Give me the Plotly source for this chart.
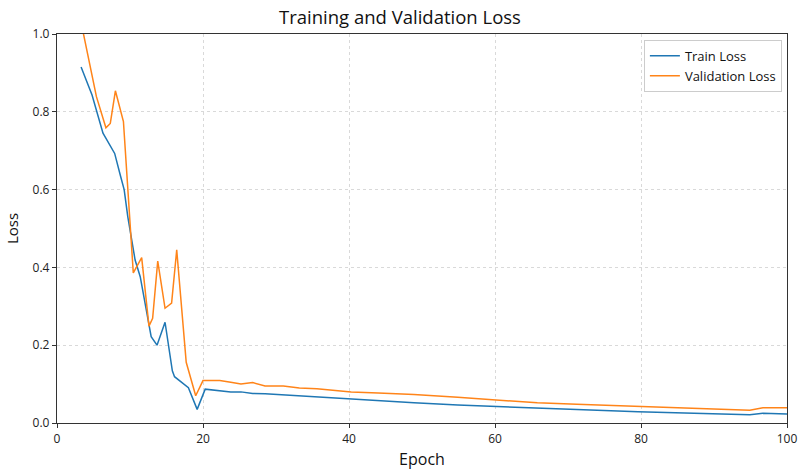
import plotly.graph_objects as go

# Data
train_epochs = [3.3, 4.8, 6.3, 7.9, 8.7, 9.2, 9.7, 10.7, 11.4, 12.9, 13.7, 14.8, 15.8, 16.1,
                18.0, 19.2, 20.3, 22.1, 23.8, 25.2, 26.8, 28.5, 31.0, 33.2, 35.6, 37.5, 40.3,
                44.0, 48.9, 54.9, 60.0, 65.8, 71.2, 79.6, 87.5, 94.9, 96.7, 100]
train_loss = [0.915, 0.843, 0.745, 0.693, 0.635, 0.600, 0.530, 0.419, 0.376, 0.222, 0.200,
              0.259, 0.134, 0.119, 0.091, 0.035, 0.087, 0.083, 0.080, 0.080, 0.076, 0.075,
              0.072, 0.069, 0.068, 0.065, 0.061, 0.057, 0.052, 0.046, 0.042, 0.039, 0.035,
              0.029, 0.025, 0.021, 0.025, 0.023]

val_epochs = [3.3, 5.4, 6.7, 7.3, 8.0, 9.1, 10.45, 11.6, 12.6, 13.1, 13.8, 14.8, 15.7, 16.4,
              17.7, 19.0, 20.0, 20.9, 22.3, 23.8, 25.2, 26.8, 28.5, 31.0, 33.2, 35.6, 37.5,
              40.3, 44.0, 48.9, 54.9, 60.0, 65.8, 71.2, 79.6, 87.5, 94.9, 96.7, 100]
val_loss = [1.03, 0.839, 0.759, 0.770, 0.854, 0.775, 0.386, 0.425, 0.249, 0.269, 0.416,
            0.295, 0.308, 0.445, 0.156, 0.070, 0.109, 0.109, 0.109, 0.105, 0.100, 0.104,
            0.095, 0.095, 0.090, 0.088, 0.084, 0.080, 0.077, 0.073, 0.066, 0.059, 0.052,
            0.048, 0.042, 0.038, 0.033, 0.039, 0.039]

x_ticks = [0, 20, 40, 60, 80, 100]
y_ticks = [0.0, 0.2, 0.4, 0.6, 0.8, 1.0]

FONT = "Open Sans, Noto Sans, DejaVu Sans, sans-serif"

fig = go.Figure()
fig.add_trace(go.Scatter(x=train_epochs, y=train_loss, mode="lines", name="Train Loss",
                         line=dict(color="#1f77b4", width=1.5)))
fig.add_trace(go.Scatter(x=val_epochs, y=val_loss, mode="lines", name="Validation Loss",
                         line=dict(color="#ff8419", width=1.5)))

axis_common = dict(
    showline=True, linecolor="#333333", linewidth=1.3, mirror=True,
    ticks="outside", ticklen=4, tickcolor="#333333",
    showgrid=True, gridcolor="#d9d9d9", griddash="3px,3px", gridwidth=1,
    zeroline=False, automargin=False,
    tickfont=dict(size=12, color="#222222", family=FONT),
)

fig.update_layout(
    width=800, height=474,
    margin=dict(l=57, r=13, t=34, b=51),
    paper_bgcolor="white", plot_bgcolor="white",
    font=dict(family=FONT, color="#111111"),
    title=dict(text="Training and Validation Loss", x=0.5, xanchor="center",
               y=0.963, yanchor="middle", font=dict(size=18.5, color="#111111")),
    xaxis=dict(range=[0, 100], tickvals=x_ticks, ticktext=[str(v) for v in x_ticks],
               title=dict(text="Epoch", font=dict(size=16), standoff=8), **axis_common),
    yaxis=dict(range=[0, 1.0], tickvals=y_ticks, ticktext=[f"{v:.1f}" for v in y_ticks],
               title=dict(text="Loss", font=dict(size=15), standoff=10), **axis_common),
    legend=dict(x=0.993, y=0.985, xanchor="right", yanchor="top",
                bgcolor="rgba(255,255,255,0.9)", bordercolor="#cccccc", borderwidth=1,
                font=dict(size=13, color="#111111"), tracegroupgap=5,
                itemwidth=30),
    showlegend=True,
)

fig.write_html("out.html")
